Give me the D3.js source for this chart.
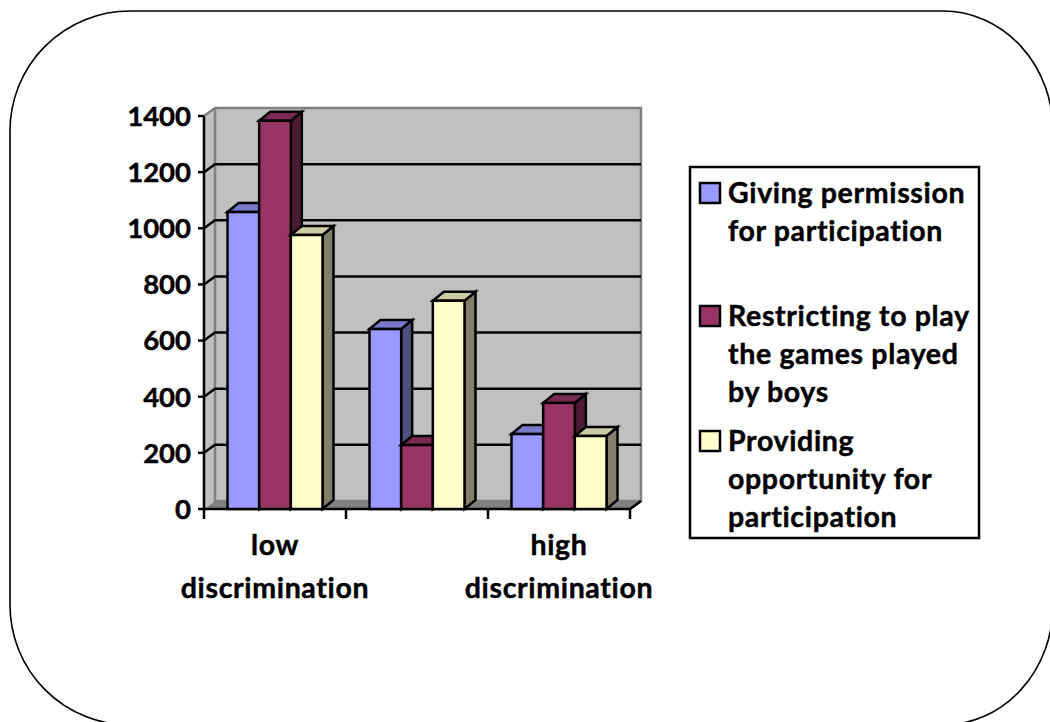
<!DOCTYPE html>
<html>
<head>
<meta charset="utf-8">
<script src="https://cdn.jsdelivr.net/npm/d3@7/dist/d3.min.js"></script>
<style>
html,body{margin:0;padding:0;background:#fff;}
svg{display:block;}
text{font-family:Lato,"Open Sans",sans-serif;font-weight:700;fill:#000;stroke:#000;stroke-width:0.45px;font-variant-ligatures:none;}
</style>
</head>
<body>
<svg id="chart" width="1050" height="722"></svg>
<script>
// Survey counts per discrimination level, one array per response series
const groupKeys = ["low", "mid", "high"];
const seriesNames = ["giving", "restricting", "providing"];
const giving = [1058, 641, 267];
const restricting = [1383, 228, 378];
const providing = [976, 742, 260];
const yTicks = [0, 200, 400, 600, 800, 1000, 1200, 1400];
const categoryLabels = [["low", "discrimination"], [], ["high", "discrimination"]];
const legendLabels = [
  ["Giving permission", "for participation"],
  ["Restricting to play", "the games played", "by boys"],
  ["Providing", "opportunity for", "participation"]
];
const frontColors = ["#9999ff", "#993366", "#ffffcc"];
const topColors = ["#7a7acc", "#7a2952", "#cccca3"];
const sideColors = ["#50507f", "#4d1a33", "#80806a"];

const svg = d3.select("#chart");
const wordSize = 28.5;
const wordSpacing = 0.65;
const digitSize = 27.5;
const lineWidth = 2.5;

// Rounded frame that runs past the right and bottom of the page
svg.append("path").attr("fill", "none").attr("stroke", "#000").attr("stroke-width", 1.6)
  .attr("d", "M130,11L943,11A110,120 0 0 1 1053,131L1053,605A110,120 0 0 1 943,725L130,725A120,120 0 0 1 10,605L10,131A120,120 0 0 1 130,11Z");

const depthX = 11, depthY = 8, barDepthY = 9;
const x = d3.scaleBand().domain(groupKeys).range([204, 630]).paddingInner(0).paddingOuter(0);
const y = d3.scaleLinear().domain([0, 1400]).range([509, 116]);
const inner = d3.scaleBand().domain(seriesNames).range([23.5, x.bandwidth() - 23.5]);

const wallLeft = x.range()[0] + depthX, wallRight = x.range()[1] + depthX;
const wallTop = y(1400) - depthY, wallBottom = y(0) - depthY;
const poly = pts => pts.map(p => p.join(",")).join(" ");

// Back wall, side wall and floor of the 3D box
svg.append("rect").attr("x", wallLeft).attr("y", wallTop)
  .attr("width", wallRight - wallLeft).attr("height", wallBottom - wallTop).attr("fill", "#c0c0c0");
svg.append("polygon").attr("fill", "#c0c0c0")
  .attr("points", poly([[204, y(1400)], [wallLeft, wallTop], [wallLeft, wallBottom], [204, y(0)]]));
svg.append("polygon").attr("fill", "#808080")
  .attr("points", poly([[204, y(0)], [wallLeft, wallBottom], [wallRight, wallBottom], [630, y(0)]]));
svg.append("path").attr("fill", "none").attr("stroke", "#808080").attr("stroke-width", lineWidth)
  .attr("d", `M204,${y(1400)}L${wallLeft},${wallTop}L${wallRight},${wallTop}L${wallRight},${wallBottom}L630,${y(0)}`);
svg.append("path").attr("fill", "none").attr("stroke", "#808080").attr("stroke-width", lineWidth)
  .attr("d", `M${wallLeft},${wallTop}L${wallLeft},${wallBottom}L${wallRight},${wallBottom}`);

// Gridlines across the back wall, with the slanted run along the side wall
yTicks.filter(t => t > 0 && t < 1400).forEach(t => {
  svg.append("path").attr("fill", "none").attr("stroke", "#000").attr("stroke-width", lineWidth)
    .attr("d", `M204,${y(t)}L${wallLeft},${y(t) - depthY}L${wallRight},${y(t) - depthY}`);
});

// Value axis
const yAxis = svg.append("g");
yAxis.append("line").attr("x1", 204).attr("x2", 204).attr("y1", y(1400)).attr("y2", y(0))
  .attr("stroke", "#000").attr("stroke-width", lineWidth);
yTicks.forEach(t => {
  yAxis.append("line").attr("x1", 198).attr("x2", 204).attr("y1", y(t)).attr("y2", y(t))
    .attr("stroke", "#000").attr("stroke-width", lineWidth);
  yAxis.append("text").attr("x", 191).attr("y", y(t)).attr("dy", "0.36em")
    .attr("text-anchor", "end").attr("font-size", digitSize).text(t);
});

// Category axis
svg.append("line").attr("x1", 204).attr("x2", 630).attr("y1", y(0)).attr("y2", y(0))
  .attr("stroke", "#000").attr("stroke-width", lineWidth);
const catEdges = [...groupKeys.map(k => x(k)), x.range()[1]];
catEdges.forEach(e => {
  svg.append("line").attr("x1", e).attr("x2", e).attr("y1", y(0)).attr("y2", y(0) + 10)
    .attr("stroke", "#000").attr("stroke-width", lineWidth);
});
svg.append("path").attr("fill", "none").attr("stroke", "#000").attr("stroke-width", lineWidth)
  .attr("d", `M630,${y(0)}L${wallRight},${wallBottom}`);

groupKeys.forEach((k, i) => {
  const cx = i === 0 ? 275 : 559;
  categoryLabels[i].forEach((line, j) => {
    svg.append("text").attr("x", cx).attr("y", 555 + j * 43)
      .attr("text-anchor", "middle").attr("font-size", wordSize).attr("letter-spacing", wordSpacing).text(line);
  });
});

// Bars are drawn back to front per group: top and side faces, then the front
const seriesValues = [giving, restricting, providing];
groupKeys.forEach((k, gi) => {
  seriesNames.forEach((s, si) => {
    const v = seriesValues[si][gi];
    const x0 = x(k) + inner(s), x1 = x0 + inner.bandwidth();
    const yt = y(v), yb = y(0);
    const g = svg.append("g").attr("stroke", "#000").attr("stroke-width", lineWidth).attr("stroke-linejoin", "miter");
    g.append("polygon").attr("fill", sideColors[si])
      .attr("points", poly([[x1, yt], [x1 + depthX, yt - barDepthY], [x1 + depthX, yb - barDepthY], [x1, yb]]));
    g.append("polygon").attr("fill", topColors[si])
      .attr("points", poly([[x0, yt], [x0 + depthX, yt - barDepthY], [x1 + depthX, yt - barDepthY], [x1, yt]]));
    g.append("rect").attr("fill", frontColors[si])
      .attr("x", x0).attr("y", yt).attr("width", x1 - x0).attr("height", yb - yt);
  });
});

// Legend box with swatches and wrapped labels
svg.append("rect").attr("x", 690).attr("y", 167).attr("width", 289).attr("height", 371)
  .attr("fill", "#fff").attr("stroke", "#000").attr("stroke-width", lineWidth);
const legendFirstLine = [203, 326, 451];
const swatchTop = [183, 306, 431];
legendLabels.forEach((lines, i) => {
  svg.append("rect").attr("x", 700).attr("y", swatchTop[i]).attr("width", 20).attr("height", 20)
    .attr("fill", frontColors[i]).attr("stroke", "#000").attr("stroke-width", lineWidth);
  lines.forEach((line, j) => {
    svg.append("text").attr("x", 728).attr("y", legendFirstLine[i] + j * 38)
      .attr("font-size", wordSize).attr("letter-spacing", wordSpacing).text(line);
  });
});
</script>
</body>
</html>
